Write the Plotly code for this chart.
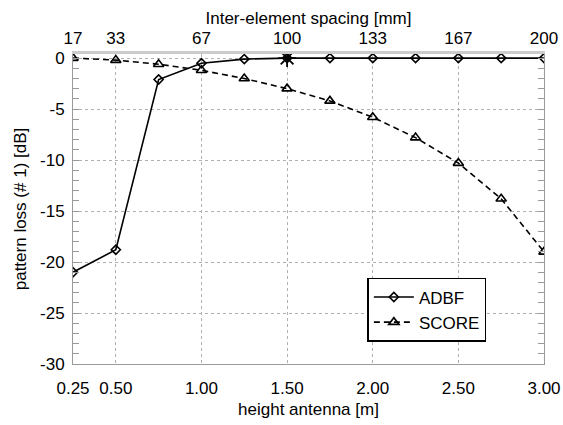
import plotly.graph_objects as go

heights = [0.25, 0.5, 0.75, 1.0, 1.25, 1.5, 1.75, 2.0, 2.25, 2.5, 2.75, 3.0]
adbf = [-21.0, -18.8, -2.1, -0.5, -0.1, 0.0, 0.0, 0.0, 0.0, 0.0, 0.0, 0.0]
score = [0.0, -0.2, -0.6, -1.2, -2.0, -3.0, -4.2, -5.8, -7.8, -10.3, -13.8, -19.0]
star_x = [1.5]
star_y = [0.0]

bottom_ticks = [0.25, 0.5, 1.0, 1.5, 2.0, 2.5, 3.0]
bottom_text = ["0.25", "0.50", "1.00", "1.50", "2.00", "2.50", "3.00"]
top_text = ["17", "33", "67", "100", "133", "167", "200"]
y_ticks = [0, -5, -10, -15, -20, -25, -30]
y_text = ["0", "-5", "-10", "-15", "-20", "-25", "-30"]

FONT = "Liberation Sans, Arial, Helvetica, sans-serif"
FS = 17
FRAME = "#9a9a9a"
GRID = "#b0b0b0"

fig = go.Figure()
fig.add_trace(go.Scatter(
    x=heights, y=adbf, name="ADBF", mode="lines+markers",
    line=dict(color="black", width=1.6, dash="solid"),
    marker=dict(symbol="diamond-open", size=7, color="black", line=dict(width=1.6, color="black")),
))
fig.add_trace(go.Scatter(
    x=heights, y=score, name="SCORE", mode="lines+markers",
    line=dict(color="black", width=1.6, dash="6px,4px"),
    marker=dict(symbol="triangle-up-open", size=9, color="black", line=dict(width=1.6, color="black")),
))
fig.add_trace(go.Scatter(
    x=star_x, y=star_y, mode="markers", showlegend=False,
    marker=dict(symbol="asterisk-open", size=15, color="black", line=dict(width=1.8, color="black")),
))

fig.update_layout(
    width=563, height=425,
    margin=dict(l=73, r=19, t=54, b=61, autoexpand=False),
    paper_bgcolor="white", plot_bgcolor="white",
    font=dict(family=FONT, size=FS, color="black"),
    xaxis=dict(
        showline=True, linecolor=FRAME, linewidth=1, ticks="", zeroline=False,
        tickfont=dict(family=FONT, size=FS, color="black"),
        range=[0.25, 3.0], tickvals=bottom_ticks, ticktext=bottom_text,
        showgrid=True, gridcolor=GRID, griddash="dot", gridwidth=1,
        ticklabelstandoff=9, automargin=False,
        title=dict(text="height antenna [m]", font=dict(family=FONT, size=FS), standoff=5),
    ),
    xaxis2=dict(
        showline=True, linecolor="#cccccc", linewidth=3, ticks="", zeroline=False,
        tickfont=dict(family=FONT, size=FS, color="black"),
        overlaying="x", side="top", anchor="y",
        range=[0.25, 3.0], tickvals=bottom_ticks, ticktext=top_text,
        showgrid=False, matches="x", ticklabelstandoff=0, automargin=False,
        title=dict(text="Inter-element spacing [mm]", font=dict(family=FONT, size=FS), standoff=1),
    ),
    yaxis=dict(
        showline=True, linecolor=FRAME, linewidth=1, zeroline=False,
        ticks="inside", tickcolor=FRAME, ticklen=6, tickwidth=1,
        tickfont=dict(family=FONT, size=FS, color="black"),
        range=[-30, 0.4], tickvals=y_ticks, ticktext=y_text,
        showgrid=True, gridcolor=GRID, griddash="dot", gridwidth=1,
        mirror="allticks", ticklabelstandoff=4, automargin=False,
        minor=dict(dtick=1, ticks="inside", ticklen=6, tickcolor=FRAME, tickwidth=1, showgrid=False),
        title=dict(text="pattern loss (# 1) [dB]", font=dict(family=FONT, size=FS), standoff=9),
    ),
    legend=dict(
        x=0.625, y=0.071, xanchor="left", yanchor="bottom",
        bgcolor="white", bordercolor="black", borderwidth=1.5,
        font=dict(family=FONT, size=FS, color="black"),
        tracegroupgap=0, itemwidth=40,
    ),
    showlegend=True,
)

# invisible helper trace so the top axis renders
fig.add_trace(go.Scatter(x=bottom_ticks, y=[None]*len(bottom_ticks), xaxis="x2", yaxis="y",
                         mode="markers", showlegend=False, hoverinfo="skip"))

fig.write_html("out.html")
